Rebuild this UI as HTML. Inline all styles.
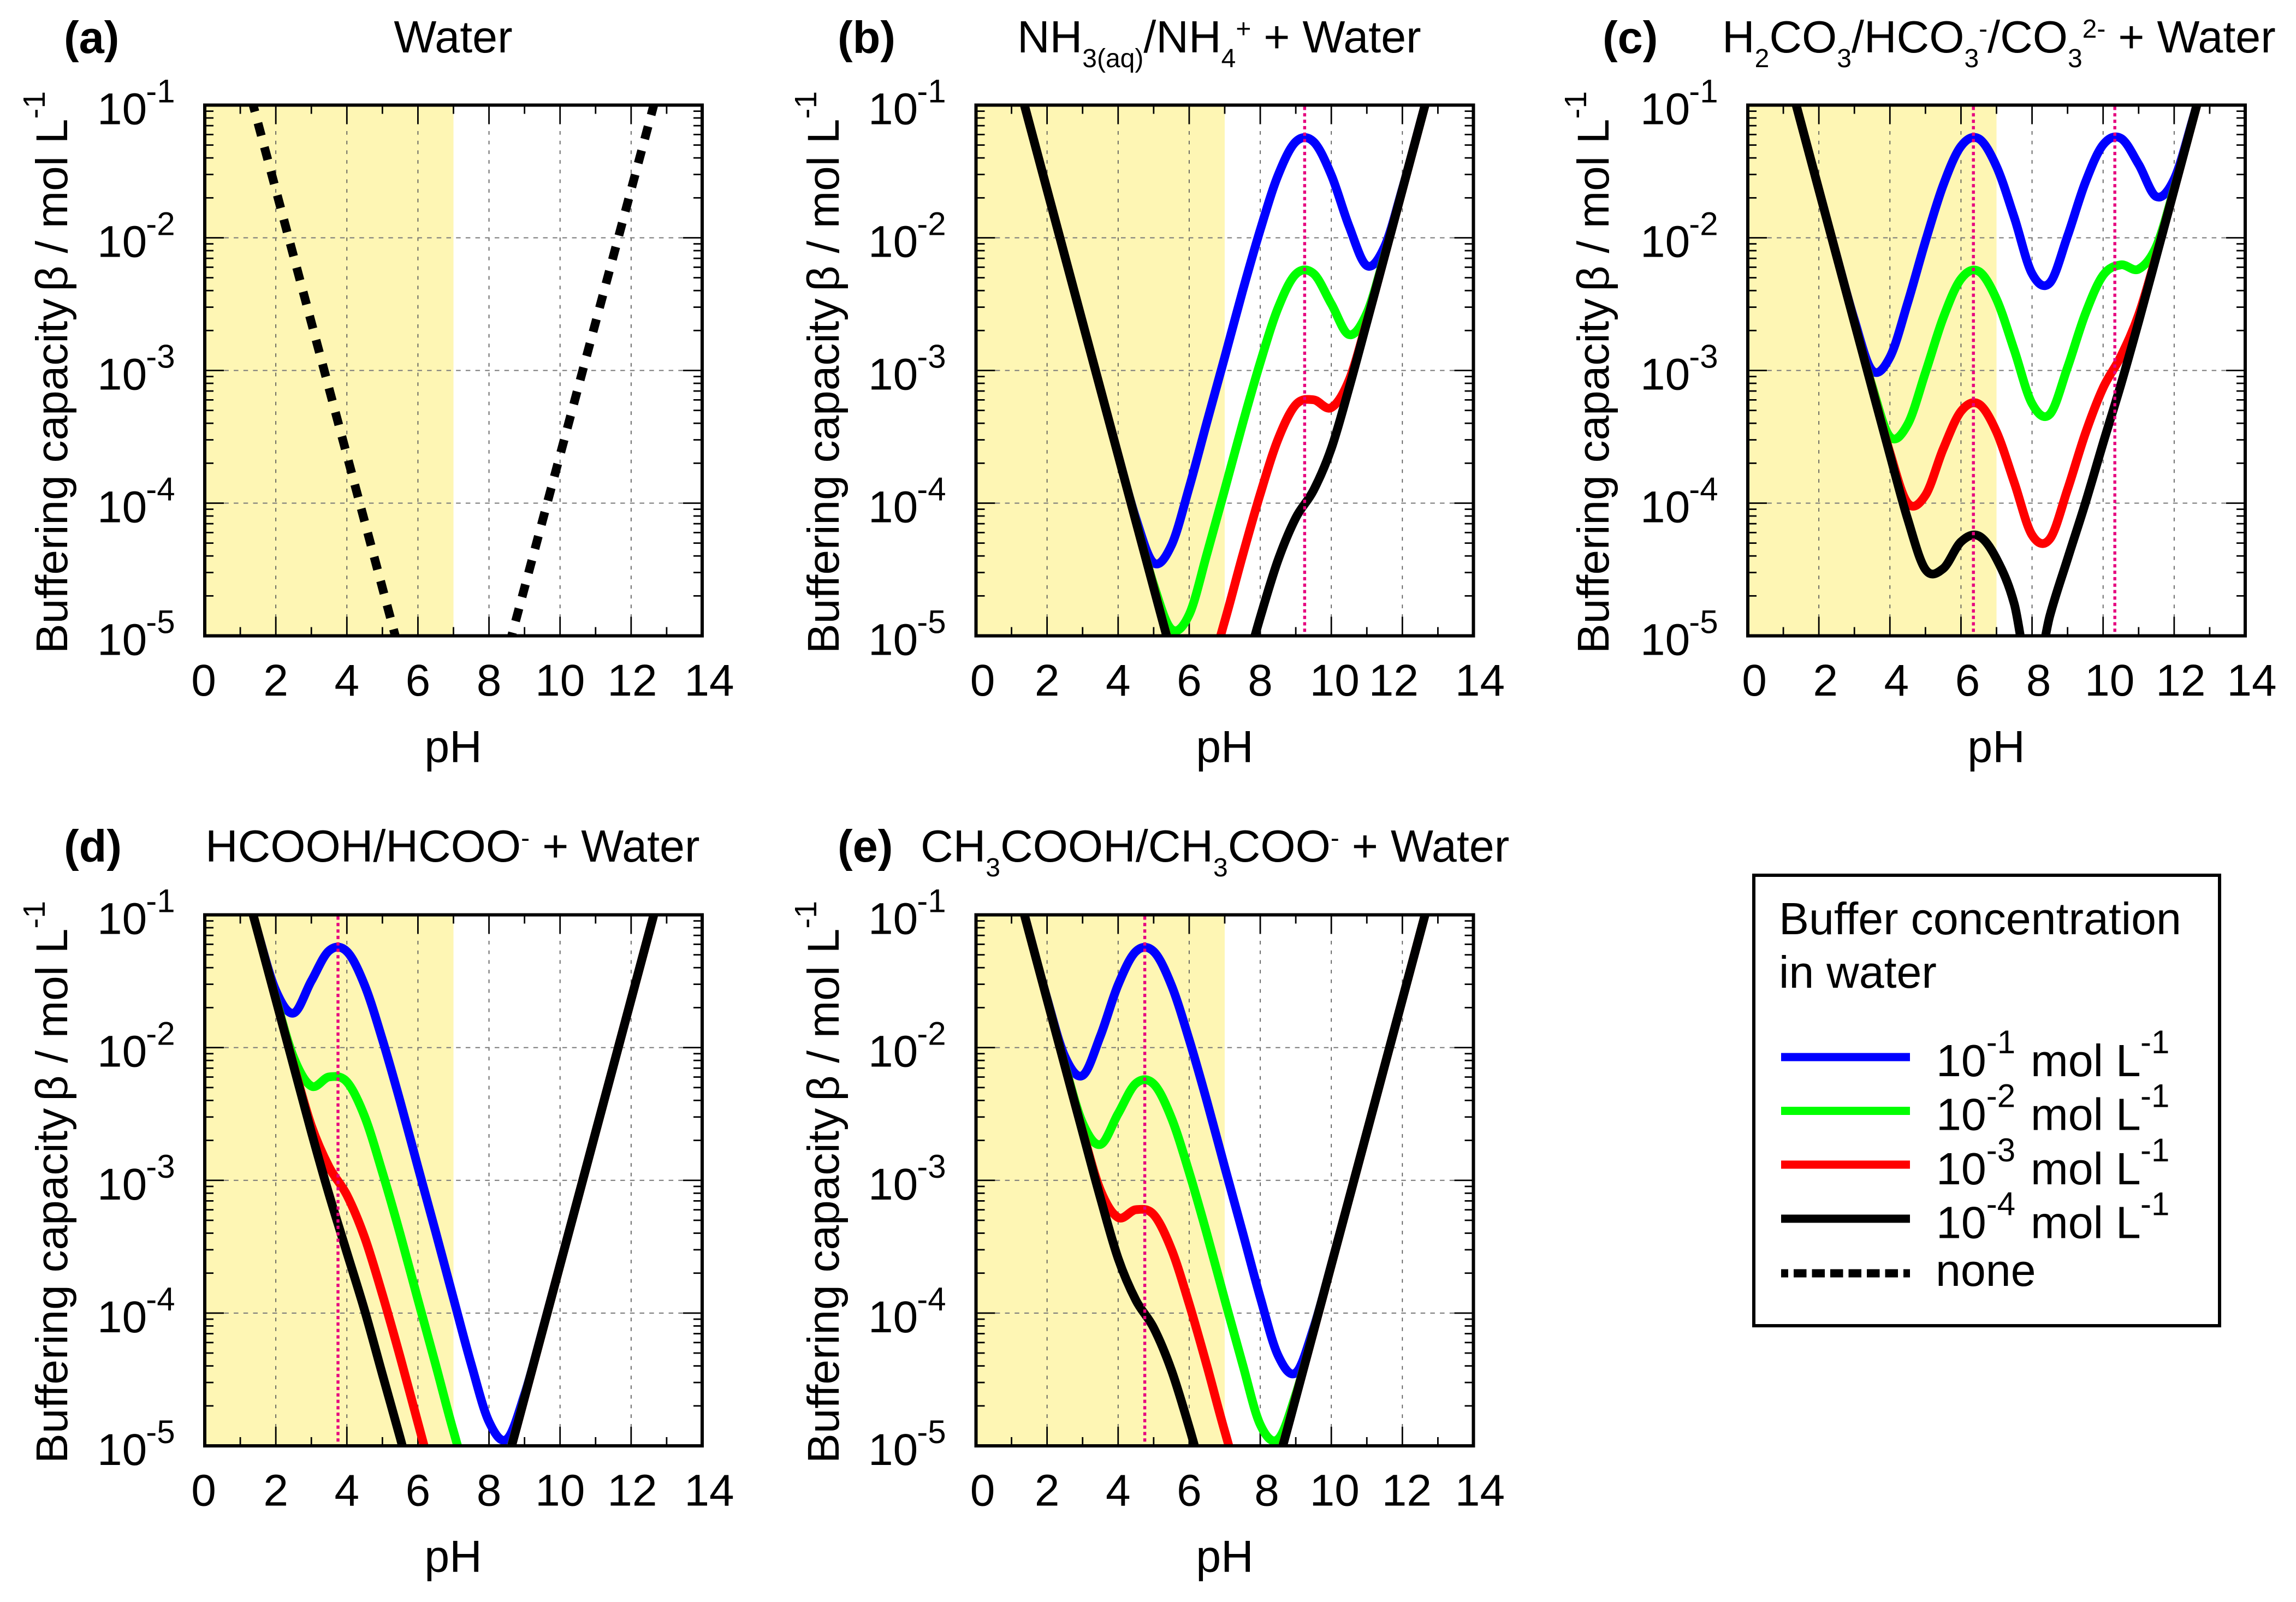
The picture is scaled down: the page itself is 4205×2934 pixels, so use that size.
<!DOCTYPE html>
<html>
<head>
<meta charset="utf-8">
<title>Buffering capacity vs pH</title>
<style>
html,body{margin:0;padding:0;background:#fff;}
svg{display:block;}
text{font-family:"Liberation Sans",Arial,sans-serif;fill:#000;}
</style>
</head>
<body>
<svg id="figure" xmlns="http://www.w3.org/2000/svg" width="4205" height="2934" viewBox="0 0 4205 2934">
<rect width="4205" height="2934" fill="#fff"/>
<g id="panel-layer"></g>

<g font-size="82.6">
<text x="117" y="97" font-size="83" font-weight="bold">(a)</text>
<text x="1534" y="97" font-size="83" font-weight="bold">(b)</text>
<text x="2935" y="97" font-size="83" font-weight="bold">(c)</text>
<text x="117" y="1578" font-size="83" font-weight="bold">(d)</text>
<text x="1534" y="1578" font-size="83" font-weight="bold">(e)</text>

<text x="830" y="96" text-anchor="middle">Water</text>
<text x="1863" y="96">NH<tspan dy="27" font-size="48">3(aq)</tspan><tspan dy="-27">/NH</tspan><tspan dy="27" font-size="48">4</tspan><tspan dy="-54" font-size="48">+</tspan><tspan dy="27"> + Water</tspan></text>
<text x="3154" y="96">H<tspan dy="27" font-size="48">2</tspan><tspan dy="-27">CO</tspan><tspan dy="27" font-size="48">3</tspan><tspan dy="-27">/HCO</tspan><tspan dy="27" font-size="48">3</tspan><tspan dy="-54" font-size="48">-</tspan><tspan dy="27">/CO</tspan><tspan dy="27" font-size="48">3</tspan><tspan dy="-54" font-size="48">2-</tspan><tspan dy="27"> + Water</tspan></text>
<text x="376" y="1578">HCOOH/HCOO<tspan dy="-27" font-size="48">-</tspan><tspan dy="27"> + Water</tspan></text>
<text x="1686" y="1578">CH<tspan dy="27" font-size="48">3</tspan><tspan dy="-27">COOH/CH</tspan><tspan dy="27" font-size="48">3</tspan><tspan dy="-27">COO</tspan><tspan dy="-27" font-size="48">-</tspan><tspan dy="27"> + Water</tspan></text>

<text x="830" y="1396" text-anchor="middle">pH</text>
<text x="2243" y="1396" text-anchor="middle">pH</text>
<text x="3656" y="1396" text-anchor="middle">pH</text>
<text x="830" y="2879" text-anchor="middle">pH</text>
<text x="2243" y="2879" text-anchor="middle">pH</text>

<text font-size="82" transform="translate(123,1197) rotate(-90)">Buffering capacity<tspan dx="13">β</tspan> / mol L<tspan dy="-41" font-size="57">-1</tspan></text>
<text font-size="82" transform="translate(1536,1197) rotate(-90)">Buffering capacity<tspan dx="13">β</tspan> / mol L<tspan dy="-41" font-size="57">-1</tspan></text>
<text font-size="82" transform="translate(2946,1197) rotate(-90)">Buffering capacity<tspan dx="13">β</tspan> / mol L<tspan dy="-41" font-size="57">-1</tspan></text>
<text font-size="82" transform="translate(123,2680) rotate(-90)">Buffering capacity<tspan dx="13">β</tspan> / mol L<tspan dy="-41" font-size="57">-1</tspan></text>
<text font-size="82" transform="translate(1536,2680) rotate(-90)">Buffering capacity<tspan dx="13">β</tspan> / mol L<tspan dy="-41" font-size="57">-1</tspan></text>
</g>

<g font-size="82.5">
<rect x="3212" y="1603" width="853" height="825" fill="#fff" stroke="#000" stroke-width="6"/>
<text x="3258" y="1711">Buffer concentration</text>
<text x="3258" y="1809">in water</text>
<line x1="3262" x2="3498" y1="1936" y2="1936" stroke="#0000ff" stroke-width="15"/>
<line x1="3262" x2="3498" y1="2034.5" y2="2034.5" stroke="#00ff00" stroke-width="15"/>
<line x1="3262" x2="3498" y1="2133" y2="2133" stroke="#ff0000" stroke-width="15"/>
<line x1="3262" x2="3498" y1="2232" y2="2232" stroke="#000000" stroke-width="15"/>
<line x1="3262" x2="3498" y1="2332" y2="2332" stroke="#000000" stroke-width="15" stroke-dasharray="13 10 23.5 10 23.5 10 23.5 10 23.5 10 23.5 10 23.5 10 13"/>
<text x="3546" y="1971">10<tspan dy="-42" font-size="60">-1</tspan><tspan x="3719" dy="42">mol L</tspan><tspan x="3920" dy="-42" font-size="60">-1</tspan></text>
<text x="3546" y="2069.5">10<tspan dy="-42" font-size="60">-2</tspan><tspan x="3719" dy="42">mol L</tspan><tspan x="3920" dy="-42" font-size="60">-1</tspan></text>
<text x="3546" y="2169">10<tspan dy="-42" font-size="60">-3</tspan><tspan x="3719" dy="42">mol L</tspan><tspan x="3920" dy="-42" font-size="60">-1</tspan></text>
<text x="3546" y="2267.5">10<tspan dy="-42" font-size="60">-4</tspan><tspan x="3719" dy="42">mol L</tspan><tspan x="3920" dy="-42" font-size="60">-1</tspan></text>
<text x="3545" y="2355">none</text>
</g>
</svg>

<script>
// pH sample points shared by every series
const phValues = [1,1.5,2,2.5,3,3.5,4,4.5,5,5.5,6,6.5,7,7.5,8,8.5,9,9.5,10,10.5,11,11.5,12,12.5,13];

// Tick labels
const xTickLabels = [0,2,4,6,8,10,12,14];
const xMinorTicks = [1,3,5,7,9,11,13];
const yTickExponents = [-1,-2,-3,-4,-5];
const yMinorMultipliers = [2,3,4,5,6,7,8,9];

// Series values: log10 of buffering capacity (mol/L) at each phValues entry
const waterOnly = [-0.638,-1.138,-1.638,-2.138,-2.638,-3.138,-3.638,-4.138,-4.638,-5.138,-5.638,-6.1,-6.337,-6.1,-5.638,-5.138,-4.638,-4.138,-3.638,-3.138,-2.638,-2.138,-1.638,-1.138,-0.638];

const ammoniaBlue  = [-0.638,-1.138,-1.638,-2.138,-2.638,-3.138,-3.636,-4.114,-4.45,-4.318,-3.882,-3.388,-2.9,-2.405,-1.94,-1.53,-1.276,-1.276,-1.527,-1.913,-2.21,-2.066,-1.63,-1.136,-0.638];
const ammoniaGreen = [-0.638,-1.138,-1.638,-2.138,-2.638,-3.138,-3.638,-4.135,-4.614,-4.95,-4.84,-4.382,-3.898,-3.405,-2.94,-2.53,-2.274,-2.27,-2.498,-2.73,-2.568,-2.131,-1.637,-1.138,-0.638];
const ammoniaRed   = [-0.638,-1.138,-1.638,-2.138,-2.638,-3.138,-3.638,-4.138,-4.635,-5.114,-5.426,-5.318,-4.89,-4.398,-3.931,-3.519,-3.258,-3.221,-3.28,-3.073,-2.631,-2.137,-1.638,-1.138,-0.638];
const ammoniaBlack = [-0.638,-1.138,-1.638,-2.138,-2.638,-3.138,-3.638,-4.138,-4.638,-5.135,-5.614,-5.926,-5.764,-5.331,-4.86,-4.43,-4.111,-3.903,-3.588,-3.131,-2.637,-2.138,-1.638,-1.138,-0.638];

const carbonateBlue  = [-0.638,-1.138,-1.638,-2.136,-2.618,-3.0,-2.9,-2.49,-2.026,-1.603,-1.31,-1.253,-1.463,-1.847,-2.27,-2.34,-1.986,-1.583,-1.299,-1.25,-1.446,-1.69,-1.558,-1.129,-0.638];
const carbonateGreen = [-0.638,-1.138,-1.638,-2.138,-2.638,-3.119,-3.5,-3.406,-3.015,-2.603,-2.31,-2.253,-2.463,-2.847,-3.25,-3.33,-2.976,-2.573,-2.282,-2.204,-2.236,-2.064,-1.629,-1.137,-0.638];
const carbonateRed   = [-0.638,-1.138,-1.638,-2.138,-2.638,-3.134,-3.619,-4.0,-3.94,-3.591,-3.308,-3.253,-3.463,-3.845,-4.24,-4.27,-3.896,-3.475,-3.131,-2.893,-2.58,-2.13,-1.636,-1.138,-0.638];
const carbonateBlack = [-0.638,-1.138,-1.638,-2.138,-2.638,-3.138,-3.636,-4.12,-4.5,-4.493,-4.291,-4.247,-4.42,-4.76,-5.4,-4.85,-4.42,-4.0,-3.548,-3.107,-2.632,-2.137,-1.638,-1.138,-0.638];

const formicBlue  = [-0.638,-1.136,-1.57,-1.74,-1.498,-1.27,-1.276,-1.53,-1.94,-2.405,-2.9,-3.39,-3.89,-4.385,-4.818,-4.95,-4.614,-4.135,-3.637,-3.138,-2.638,-2.138,-1.638,-1.138,-0.638];
const formicGreen = [-0.638,-1.138,-1.631,-2.073,-2.29,-2.221,-2.258,-2.519,-2.94,-3.405,-3.9,-4.39,-4.89,-5.318,-5.426,-5.114,-4.635,-4.138,-3.638,-3.138,-2.638,-2.138,-1.638,-1.138,-0.638];
const formicRed   = [-0.638,-1.138,-1.637,-2.131,-2.588,-2.9,-3.111,-3.43,-3.86,-4.331,-4.827,-5.318,-5.757,-5.917,-5.614,-5.135,-4.638,-4.138,-3.638,-3.138,-2.638,-2.138,-1.638,-1.138,-0.638];
const formicBlack = [-0.638,-1.138,-1.638,-2.138,-2.636,-3.108,-3.544,-3.98,-4.462,-4.94,-5.44,-5.93,-6.23,-6.076,-5.63,-5.138,-4.638,-4.138,-3.638,-3.138,-2.638,-2.138,-1.638,-1.138,-0.638];

const acetateBlue  = [-0.638,-1.136,-1.63,-2.066,-2.21,-1.913,-1.527,-1.276,-1.276,-1.53,-1.94,-2.405,-2.9,-3.388,-3.882,-4.318,-4.45,-4.114,-3.636,-3.138,-2.638,-2.138,-1.638,-1.138,-0.638];
const acetateGreen = [-0.638,-1.138,-1.637,-2.131,-2.568,-2.73,-2.498,-2.27,-2.274,-2.53,-2.94,-3.405,-3.898,-4.382,-4.84,-4.95,-4.614,-4.135,-3.638,-3.138,-2.638,-2.138,-1.638,-1.138,-0.638];
const acetateRed   = [-0.638,-1.138,-1.638,-2.137,-2.631,-3.073,-3.28,-3.221,-3.258,-3.519,-3.931,-4.398,-4.89,-5.318,-5.426,-5.114,-4.635,-4.138,-3.638,-3.138,-2.638,-2.138,-1.638,-1.138,-0.638];
const acetateBlack = [-0.638,-1.138,-1.638,-2.138,-2.637,-3.131,-3.588,-3.903,-4.111,-4.43,-4.86,-5.331,-5.764,-5.926,-5.614,-5.135,-4.638,-4.138,-3.638,-3.138,-2.638,-2.138,-1.638,-1.138,-0.638];

// pKa marker lines per panel
const pkaA = [];
const pkaB = [9.25];
const pkaC = [6.35,10.33];
const pkaD = [3.75];
const pkaE = [4.75];

// Panel layout (separate from data)
const panelLayouts = [
 {id:'a', left:375,    top:192.5, bottom:1164.5, yLabelX:178,  nudge:{0:-2,12:2,14:13}, pka:pkaA, series:[{v:waterOnly,c:'#000000',n:'none',dash:true}]},
 {id:'b', left:1787.5, top:192.5, bottom:1164.5, yLabelX:1590, nudge:{0:12,10:6,12:-16,14:12}, pka:pkaB, series:[{v:ammoniaBlue,c:'#0000ff',n:'1e-1'},{v:ammoniaGreen,c:'#00ff00',n:'1e-2'},{v:ammoniaRed,c:'#ff0000',n:'1e-3'},{v:ammoniaBlack,c:'#000000',n:'1e-4'}]},
 {id:'c', left:3201,   top:192.5, bottom:1164.5, yLabelX:3004, nudge:{0:12,2:12,4:12,6:12,8:12,10:12,12:12,14:12}, pka:pkaC, series:[{v:carbonateBlue,c:'#0000ff',n:'1e-1'},{v:carbonateGreen,c:'#00ff00',n:'1e-2'},{v:carbonateRed,c:'#ff0000',n:'1e-3'},{v:carbonateBlack,c:'#000000',n:'1e-4'}]},
 {id:'d', left:375,    top:1675.5,bottom:2648,   yLabelX:178,  nudge:{0:-2,12:2,14:13}, pka:pkaD, series:[{v:formicBlue,c:'#0000ff',n:'1e-1'},{v:formicGreen,c:'#00ff00',n:'1e-2'},{v:formicRed,c:'#ff0000',n:'1e-3'},{v:formicBlack,c:'#000000',n:'1e-4'}]},
 {id:'e', left:1787.5, top:1675.5,bottom:2648,   yLabelX:1590, nudge:{0:12,8:12,10:6,12:8,14:12}, pka:pkaE, series:[{v:acetateBlue,c:'#0000ff',n:'1e-1'},{v:acetateGreen,c:'#00ff00',n:'1e-2'},{v:acetateRed,c:'#ff0000',n:'1e-3'},{v:acetateBlack,c:'#000000',n:'1e-4'}]}
];

const PANEL_WIDTH = 911;
const SVGNS = 'http://www.w3.org/2000/svg';
const root = document.getElementById('panel-layer');

function mk(tag, parent, attrs){
  const el = document.createElementNS(SVGNS, tag);
  for (const k in attrs) el.setAttribute(k, attrs[k]);
  parent.appendChild(el);
  return el;
}

function smoothPath(pts){
  let d = 'M' + pts[0][0].toFixed(2) + ' ' + pts[0][1].toFixed(2);
  for (let i = 0; i < pts.length - 1; i++){
    const p0 = pts[Math.max(i-1,0)], p1 = pts[i], p2 = pts[i+1], p3 = pts[Math.min(i+2,pts.length-1)];
    const c1x = p1[0] + (p2[0]-p0[0])/6, c1y = p1[1] + (p2[1]-p0[1])/6;
    const c2x = p2[0] - (p3[0]-p1[0])/6, c2y = p2[1] - (p3[1]-p1[1])/6;
    d += 'C' + c1x.toFixed(2) + ' ' + c1y.toFixed(2) + ' ' + c2x.toFixed(2) + ' ' + c2y.toFixed(2) + ' ' + p2[0].toFixed(2) + ' ' + p2[1].toFixed(2);
  }
  return d;
}

panelLayouts.forEach(function(p){
  const right = p.left + PANEL_WIDTH;
  const xScale = function(ph){ return p.left + ph / 14 * PANEL_WIDTH; };
  const yScale = function(logBeta){ return p.top + (-1 - logBeta) / 4 * (p.bottom - p.top); };

  const g = mk('g', root, {});
  
  

  const clip = mk('clipPath', g, {id:'clip-' + p.id});
  mk('rect', clip, {x:p.left, y:p.top, width:PANEL_WIDTH, height:p.bottom - p.top});

  const shade = mk('rect', g, {x:xScale(0), y:p.top, width:xScale(7) - xScale(0), height:p.bottom - p.top, fill:'#fef6b4'});
  
  

  xTickLabels.forEach(function(t){
    if (t === 0 || t === 14) return;
    const gl = mk('line', g, {x1:xScale(t), x2:xScale(t), y1:p.top + 47.5, y2:p.bottom - 35, stroke:'#555', 'stroke-width':1.7, 'stroke-dasharray':'6.7 11'});
    
    
  });
  yTickExponents.forEach(function(e){
    if (e === -1 || e === -5) return;
    const gl = mk('line', g, {x1:p.left + 35.4, x2:right - 35, y1:yScale(e), y2:yScale(e), stroke:'#777', 'stroke-width':2, 'stroke-dasharray':'8.5 9.2'});
    
    
  });

  xTickLabels.forEach(function(t){
    [[p.bottom, p.bottom - 35],[p.top, p.top + 35]].forEach(function(s){
      const tk = mk('line', g, {x1:xScale(t), x2:xScale(t), y1:s[0], y2:s[1], stroke:'#000', 'stroke-width':2.8});
      
      
    });
    const nudge = p.nudge[t] || 0;
    const lb = mk('text', g, {x:xScale(t) + nudge, y:p.bottom + 109.5, 'text-anchor':'middle', 'font-size':82});
    
    
    lb.textContent = String(t);
  });
  xMinorTicks.forEach(function(t){
    [[p.bottom, p.bottom - 16],[p.top, p.top + 16]].forEach(function(s){
      const tk = mk('line', g, {x1:xScale(t), x2:xScale(t), y1:s[0], y2:s[1], stroke:'#000', 'stroke-width':2.8});
      
      
    });
  });

  yTickExponents.forEach(function(e){
    [[p.left, p.left + 35],[right, right - 35]].forEach(function(s){
      const tk = mk('line', g, {x1:s[0], x2:s[1], y1:yScale(e), y2:yScale(e), stroke:'#000', 'stroke-width':2.8});
      
      
    });
    const lb = mk('text', g, {x:p.yLabelX, y:yScale(e) + 35, 'font-size':82});
    
    
    lb.appendChild(document.createTextNode('10'));
    const sup = mk('tspan', lb, {dy:-40, dx:-2, 'font-size':60});
    sup.textContent = String(e);
    if (e > -5){
      yMinorMultipliers.forEach(function(m){
        const yv = e - 1 + Math.log10(m);
        [[p.left, p.left + 16],[right, right - 16]].forEach(function(s){
          const tk = mk('line', g, {x1:s[0], x2:s[1], y1:yScale(yv), y2:yScale(yv), stroke:'#000', 'stroke-width':2.8});
          
          
        });
      });
    }
  });

  const marks = mk('g', g, {'clip-path':'url(#clip-' + p.id + ')'});
  
  
  p.series.forEach(function(s){
    const pts = phValues.map(function(ph, i){ return [xScale(ph), yScale(s.v[i])]; });
    const path = mk('path', marks, {d:smoothPath(pts), fill:'none', stroke:s.c, 'stroke-width':16, 'stroke-linejoin':'round'});
    if (s.dash){
      path.setAttribute('stroke-dasharray', '24 21.7');
      path.setAttribute('stroke-dashoffset', '12');
    }
    
    
  });
  p.pka.forEach(function(k){
    const ln = mk('line', marks, {x1:xScale(k), x2:xScale(k), y1:p.top + 3, y2:p.bottom, stroke:'#e6007e', 'stroke-width':5.4, 'stroke-dasharray':'6 5.8'});
    
    
  });

  const frame = mk('rect', g, {x:p.left, y:p.top, width:PANEL_WIDTH, height:p.bottom - p.top, fill:'none', stroke:'#000', 'stroke-width':6});
  
  
});
</script>
</body>
</html>
